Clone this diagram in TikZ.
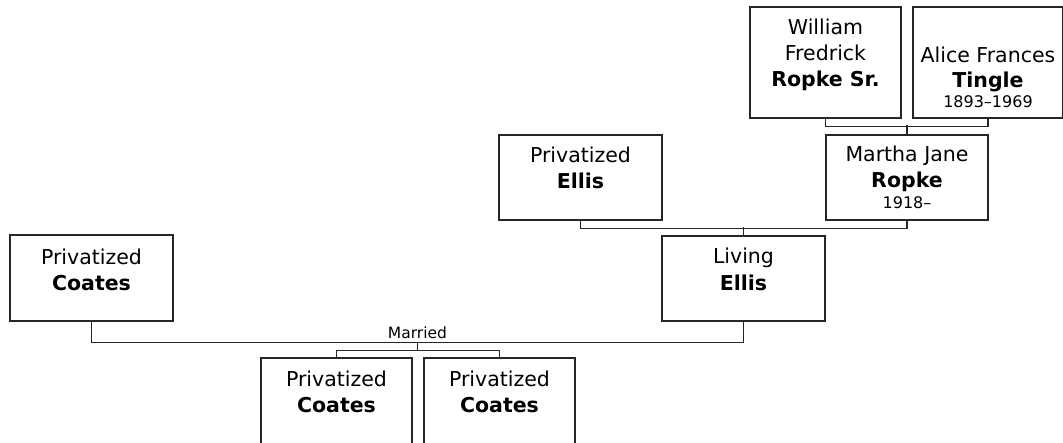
\documentclass[tikz,border=0pt]{standalone}
\usepackage{fontspec}
\setmainfont{DejaVu Sans}
\usetikzlibrary{calc}
\tikzset{
  box/.style={draw=black!85, line width=1.5pt, fill=white, rectangle, inner sep=0pt},
  link/.style={draw=black!85, line width=1.5pt},
  nm/.style={font=\fontsize{20.5}{24}\selectfont, anchor=base, inner sep=0pt},
  bnm/.style={font=\fontsize{20.5}{24}\selectfont\bfseries, anchor=base, inner sep=0pt},
  dt/.style={font=\fontsize{16}{19}\selectfont, anchor=base, inner sep=0pt},
}
\begin{document}
\begin{tikzpicture}[x=1pt,y=-1pt]
\useasboundingbox[fill=white] (0,0) rectangle (1063,443);
% boxes
\node[box, minimum width=151pt, minimum height=111pt] (W)  at (825.5,62.5) {};
\node[box, minimum width=150pt, minimum height=111pt] (A)  at (988,62.5) {};
\node[box, minimum width=162pt, minimum height=85pt]  (M)  at (907,177.5) {};
\node[box, minimum width=163pt, minimum height=85pt]  (PE) at (580.5,177.5) {};
\node[box, minimum width=163pt, minimum height=85pt]  (LE) at (743.5,278.5) {};
\node[box, minimum width=163pt, minimum height=86pt]  (PC) at (91.5,278) {};
\node[box, minimum width=151pt, minimum height=95pt]  (C1) at (336.5,405.5) {};
\node[box, minimum width=151pt, minimum height=95pt]  (C2) at (499.5,405.5) {};
% texts
\node[nm]  (Wt1) at ([yshift=-28.5pt]W.north) {William};
\node[nm]  (Wt2) at ([yshift=-54.5pt]W.north) {Fredrick};
\node[bnm] (Wt3) at ([yshift=-80.5pt]W.north) {Ropke Sr.};
\node[nm]  (At1) at ([yshift=-56pt]A.north) {Alice Frances};
\node[bnm] (At2) at ([yshift=-81pt]A.north) {Tingle};
\node[dt]  (At3) at ([yshift=-101.5pt]A.north) {1893–1969};
\node[nm]  (Mt1) at ([yshift=-27.5pt]M.north) {Martha Jane};
\node[bnm] (Mt2) at ([yshift=-53pt]M.north) {Ropke};
\node[dt]  (Mt3) at ([yshift=-74pt]M.north) {1918–};
\node[nm]  (PEt1) at ([yshift=-28pt]PE.north) {Privatized};
\node[bnm] (PEt2) at ([yshift=-54pt]PE.north) {Ellis};
\node[nm]  (LEt1) at ([yshift=-28.5pt]LE.north) {Living};
\node[bnm] (LEt2) at ([yshift=-55pt]LE.north) {Ellis};
\node[nm]  (PCt1) at ([yshift=-30pt]PC.north) {Privatized};
\node[bnm] (PCt2) at ([yshift=-56pt]PC.north) {Coates};
\node[nm]  (C1t1) at ([yshift=-29pt]C1.north) {Privatized};
\node[bnm] (C1t2) at ([yshift=-55pt]C1.north) {Coates};
\node[nm]  (C2t1) at ([yshift=-29pt]C2.north) {Privatized};
\node[bnm] (C2t2) at ([yshift=-55pt]C2.north) {Coates};
% connectors
\draw[link] (W.south) -- ++(0,8) -| (A.south);
\draw[link] (M.north) -- ++(0,-9);
\draw[link] (PE.south) -- ++(0,8) -| (M.south);
\draw[link] (LE.north) -- ++(0,-8);
\draw[link] (PC.south) -- ++(0,21) -| (LE.south);
\coordinate (mar) at ($(PC.south)!0.5!(LE.south)+(0,21)$);
\coordinate (mb) at ($(mar)+(0,8)$);
\node[dt, font=\fontsize{15.5}{19}\selectfont] (married) at ($(mar)+(0,-4.5)$) {Married};
\draw[link] (mar) -- (mb);
\draw[link] (C1.north) |- (mb) -| (C2.north);
\end{tikzpicture}
\end{document}
